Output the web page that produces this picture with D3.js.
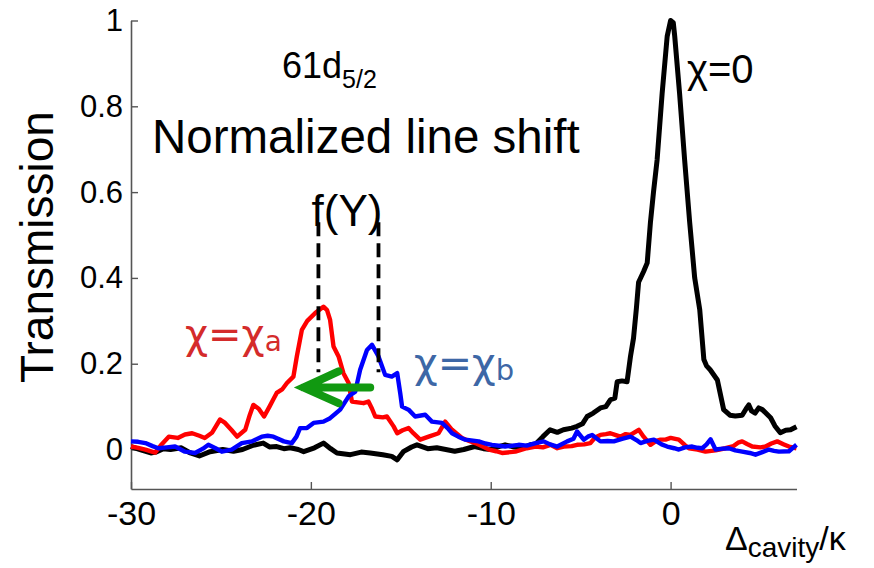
<!DOCTYPE html>
<html>
<head>
<meta charset="utf-8">
<script src="https://cdn.jsdelivr.net/npm/d3@7"></script>
<style>
  html, body { margin: 0; padding: 0; background: #fff; }
  svg { display: block; font-family: Arial, "Liberation Sans", sans-serif; }
</style>
</head>
<body>
<svg id="chart" width="874" height="568"></svg>
<script>
// ---------------- data ----------------
const xTicks = [-30, -20, -10, 0];
const yTicks = [0, 0.2, 0.4, 0.6, 0.8, 1];

// chi = 0 (black)
const chi0 = [[-30,0.007],[-29.5,0.0],[-28.9,-0.008],[-28.6,-0.006],[-28.2,0.002],[-27.8,0.0],[-27.2,0.004],[-26.7,-0.008],[-26.2,-0.015],[-25.6,-0.005],[-24.9,0.0],[-24.3,-0.004],[-23.8,0.0],[-23.2,0.01],[-22.65,0.015],[-22.3,0.006],[-21.9,0.007],[-21.5,0.002],[-21.15,0.004],[-20.7,0.0],[-20.4,-0.005],[-19.8,0.004],[-19.3,0.015],[-18.9,0.002],[-18.55,-0.008],[-17.8,-0.012],[-17.2,-0.006],[-16.7,-0.008],[-16.0,-0.012],[-15.5,-0.016],[-15.2,-0.024],[-14.86,-0.005],[-14.4,0.006],[-14.1,0.011],[-13.5,0.002],[-13.0,0.004],[-12.5,0.0],[-12.0,-0.004],[-11.5,0.0],[-10.9,0.007],[-10.4,0.002],[-10.0,0.0],[-9.6,0.006],[-9.2,0.011],[-8.7,0.006],[-8.26,0.004],[-7.8,0.011],[-7.5,0.013],[-7.1,0.03],[-6.7,0.046],[-6.3,0.04],[-5.96,0.046],[-5.5,0.05],[-5.2,0.054],[-4.9,0.06],[-4.64,0.077],[-4.3,0.085],[-3.9,0.097],[-3.6,0.1],[-3.35,0.116],[-3.1,0.12],[-2.97,0.158],[-2.7,0.16],[-2.42,0.158],[-2.23,0.217],[-2.06,0.26],[-1.9,0.33],[-1.78,0.39],[-1.5,0.415],[-1.3,0.435],[-1.12,0.53],[-0.95,0.6],[-0.75,0.675],[-0.47,0.83],[-0.19,0.963],[0.0,1.0],[0.15,0.995],[0.23,0.963],[0.5,0.83],[0.78,0.675],[1.06,0.53],[1.34,0.4],[1.62,0.326],[1.85,0.21],[2.0,0.195],[2.2,0.186],[2.6,0.162],[2.95,0.093],[3.3,0.08],[3.6,0.078],[3.98,0.08],[4.2,0.095],[4.35,0.104],[4.5,0.09],[4.7,0.085],[4.9,0.097],[5.1,0.093],[5.56,0.074],[5.8,0.055],[6.1,0.039],[6.4,0.045],[6.67,0.046],[7.0,0.053]];

// chi = chi_a (red)
const chiA = [[-30,0.007],[-29.6,0.004],[-29.2,0.0],[-28.66,-0.007],[-28.3,0.012],[-27.9,0.03],[-27.4,0.027],[-27.0,0.035],[-26.6,0.038],[-26.2,0.032],[-25.9,0.027],[-25.5,0.039],[-25.05,0.07],[-24.77,0.062],[-24.4,0.045],[-24.1,0.03],[-23.65,0.046],[-23.4,0.08],[-23.2,0.104],[-22.9,0.095],[-22.6,0.077],[-22.3,0.1],[-22.1,0.116],[-21.9,0.132],[-21.6,0.14],[-21.33,0.155],[-20.97,0.17],[-20.78,0.217],[-20.5,0.279],[-20.2,0.3],[-19.76,0.318],[-19.3,0.333],[-19.1,0.325],[-18.93,0.302],[-18.74,0.24],[-18.46,0.217],[-18.19,0.178],[-17.9,0.155],[-17.72,0.112],[-17.4,0.11],[-17.07,0.108],[-16.8,0.112],[-16.6,0.095],[-16.42,0.077],[-16.0,0.075],[-15.77,0.077],[-15.4,0.054],[-15.2,0.038],[-14.9,0.045],[-14.57,0.05],[-14.3,0.038],[-13.92,0.023],[-13.45,0.03],[-12.9,0.038],[-12.53,0.065],[-12.15,0.046],[-11.6,0.027],[-11.2,0.02],[-10.86,0.015],[-10.5,0.008],[-10.1,0.0],[-9.7,-0.004],[-9.37,-0.008],[-8.63,-0.005],[-8.0,0.003],[-7.5,0.007],[-7.1,0.005],[-6.68,0.011],[-6.3,0.003],[-5.94,0.007],[-5.5,0.008],[-5.2,0.011],[-4.8,0.012],[-4.46,0.015],[-4.2,0.028],[-3.9,0.034],[-3.6,0.036],[-3.35,0.038],[-3.0,0.033],[-2.8,0.03],[-2.5,0.036],[-2.23,0.034],[-2.0,0.04],[-1.77,0.046],[-1.5,0.03],[-1.12,0.011],[-0.8,0.02],[-0.56,0.023],[-0.28,0.023],[0.0,0.027],[0.46,0.023],[0.8,0.01],[1.02,0.003],[1.5,0.0],[1.94,-0.005],[2.5,-0.002],[3.05,0.003],[3.5,0.008],[3.75,0.016],[3.98,0.019],[4.25,0.013],[4.54,0.007],[5.0,0.005],[5.28,0.007],[5.6,0.014],[5.93,0.019],[6.3,0.012],[6.58,0.007],[7.0,0.003]];

// chi = chi_b (blue)
const chiB = [[-30,0.019],[-29.6,0.018],[-29.2,0.015],[-28.8,0.008],[-28.48,0.003],[-28.0,0.005],[-27.55,0.007],[-27.0,-0.005],[-26.44,-0.008],[-26.0,0.002],[-25.7,0.011],[-25.3,0.003],[-24.95,-0.005],[-24.4,0.0],[-23.84,0.015],[-23.28,0.019],[-22.73,0.03],[-22.4,0.032],[-22.08,0.03],[-21.5,0.019],[-21.06,0.015],[-20.8,0.03],[-20.6,0.05],[-20.22,0.05],[-19.85,0.062],[-19.3,0.065],[-18.93,0.073],[-18.6,0.085],[-18.37,0.093],[-17.9,0.124],[-17.53,0.135],[-17.4,0.16],[-17.26,0.186],[-16.88,0.232],[-16.6,0.244],[-16.24,0.217],[-15.87,0.174],[-15.5,0.17],[-15.2,0.178],[-15.03,0.131],[-14.93,0.1],[-14.57,0.093],[-14.2,0.077],[-13.64,0.081],[-13.27,0.065],[-12.71,0.062],[-12.4,0.05],[-12.15,0.038],[-11.8,0.03],[-11.41,0.023],[-10.67,0.019],[-10.3,0.014],[-9.93,0.011],[-9.2,0.007],[-8.45,0.011],[-8.0,0.009],[-7.5,0.015],[-7.05,0.019],[-6.7,0.012],[-6.3,0.007],[-5.75,0.019],[-5.4,0.025],[-5.2,0.042],[-4.83,0.023],[-4.6,0.03],[-4.36,0.034],[-3.9,0.019],[-3.5,0.02],[-3.16,0.019],[-2.7,0.025],[-2.23,0.03],[-1.9,0.022],[-1.67,0.015],[-1.3,0.02],[-0.93,0.023],[-0.5,0.012],[-0.19,0.007],[0.2,0.003],[0.46,0.0],[0.8,0.005],[1.2,0.007],[1.5,0.004],[1.76,0.003],[2.0,0.012],[2.22,0.024],[2.5,0.0],[2.9,0.002],[3.24,0.003],[3.6,-0.002],[3.98,-0.005],[4.4,-0.008],[4.72,-0.012],[5.1,-0.006],[5.47,0.0],[5.75,-0.003],[6.02,-0.005],[6.58,-0.004],[6.8,0.004],[7.0,0.011]];

// annotation geometry (data units)
const peakMarkers = [[-19.58, 0.18, 0.53], [-16.24, 0.18, 0.53]]; // x, y0, y1
const shiftArrow = { from: [-16.7, 0.1445], to: [-20.41, 0.1445], wingUp: [-18.46, 0.182], wingDown: [-18.46, 0.108] };

// ---------------- chart ----------------
const svg = d3.select("#chart");
const x = d3.scaleLinear().domain([-30, 7]).range([131, 796.5]);
const y = d3.scaleLinear().domain([-0.092, 1]).range([489, 20.5]);

const axisColor = "#555";
const sans = "Arial, 'Liberation Sans', sans-serif";

// x axis
const gx = svg.append("g").attr("transform", `translate(0,${y(-0.092)})`)
  .call(d3.axisBottom(x).tickValues(xTicks).tickSizeInner(-7).tickSizeOuter(0).tickPadding(12)
    .tickFormat(d3.format("d")));
gx.attr("font-family", null).attr("font-size", null);
gx.select(".domain").attr("stroke", axisColor).attr("stroke-width", 1.6);
gx.selectAll(".tick line").attr("stroke", axisColor).attr("stroke-width", 1.4);
gx.selectAll(".tick text").style("font-size", "34px").style("font-family", sans).attr("fill", "#000")
  .text(d => d < 0 ? "-" + Math.abs(d) : d);

// y axis
const gy = svg.append("g").attr("transform", `translate(${x(-30)},0)`)
  .call(d3.axisLeft(y).tickValues(yTicks).tickSizeInner(-7).tickSizeOuter(0).tickPadding(8)
    .tickFormat(d => d === 0 ? "0" : d === 1 ? "1" : d3.format(".1f")(d)));
gy.attr("font-family", null).attr("font-size", null);
gy.select(".domain").attr("stroke", axisColor).attr("stroke-width", 1.6);
gy.selectAll(".tick line").attr("stroke", axisColor).attr("stroke-width", 1.4);
gy.selectAll(".tick text").style("font-size", "31px").style("font-family", sans).attr("fill", "#000");

// lines
const line = d3.line().x(d => x(d[0])).y(d => y(d[1]));
const series = [
  { data: chi0, color: "#000000", w: 5 },
  { data: chiA, color: "#ff0000", w: 4.4 },
  { data: chiB, color: "#0000ff", w: 4.4 }
];
svg.append("g").selectAll("path").data(series).join("path")
  .attr("d", d => line(d.data))
  .attr("fill", "none")
  .attr("stroke", d => d.color)
  .attr("stroke-width", d => d.w)
  .attr("stroke-linejoin", "round");

// dashed peak markers
svg.append("g").selectAll("line").data(peakMarkers).join("line")
  .attr("x1", d => x(d[0])).attr("x2", d => x(d[0]))
  .attr("y1", d => y(d[2])).attr("y2", d => y(d[1]))
  .attr("stroke", "#000").attr("stroke-width", 3.8).attr("stroke-dasharray", "14,7");

// green arrow
const a = shiftArrow;
svg.append("path")
  .attr("d", `M${x(a.from[0])},${y(a.from[1])}L${x(a.to[0])},${y(a.to[1])}` +
             `M${x(a.wingUp[0])},${y(a.wingUp[1])}L${x(a.to[0])},${y(a.to[1])}L${x(a.wingDown[0])},${y(a.wingDown[1])}`)
  .attr("fill", "none").attr("stroke", "#119911").attr("stroke-width", 8)
  .attr("stroke-linecap", "round").attr("stroke-linejoin", "miter");

// text annotations
function addText(tx, ty, parts, size, color, anchor, family) {
  const t = svg.append("text").attr("x", tx).attr("y", ty).style("font-size", size + "px")
    .attr("fill", color).attr("text-anchor", anchor || "start")
    .style("font-family", family || sans);
  parts.forEach(p => {
    const s = t.append("tspan").text(p.t);
    if (p.sub) s.style("font-size", p.sub + "px").attr("dy", p.dy);
    if (p.back) s.attr("dy", p.back);
  });
  return t;
}

addText(282, 78, [{ t: "61d" }, { t: "5/2", sub: 25, dy: 10 }], 36, "#000");
addText(152, 153, [{ t: "Normalized line shift" }], 47.5, "#000");
addText(347, 226, [{ t: "f(Y)" }], 44, "#000", "middle");
addText(687, 83, [{ t: "χ=0" }], 40, "#000");
addText(185, 348, [{ t: "χ=χ" }, { t: "a", sub: 28, dy: 3 }], 40, "#d42b2b", "start", "'DejaVu Sans', sans-serif");
addText(414, 377, [{ t: "χ=χ" }, { t: "b", sub: 29, dy: 3 }], 41, "#3d67a6", "start", "'DejaVu Sans', sans-serif");
addText(725, 550, [{ t: "Δ" }, { t: "cavity", sub: 28, dy: 7 }, { t: "/κ", back: -7 }], 34, "#000");

svg.append("text").attr("transform", "translate(53,247) rotate(-90)")
  .attr("text-anchor", "middle").style("font-size", "46px").style("font-family", sans)
  .attr("fill", "#000").text("Transmission");
</script>
</body>
</html>
